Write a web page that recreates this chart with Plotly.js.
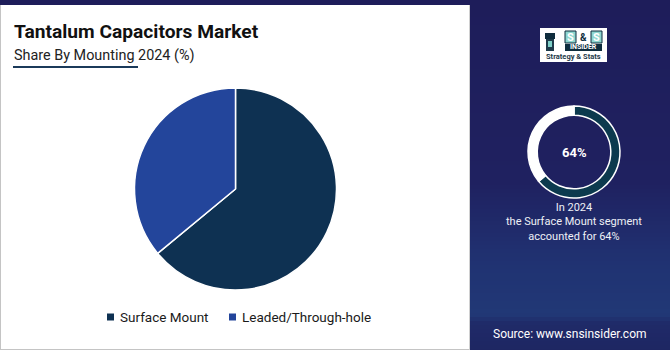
<!DOCTYPE html>
<html>
<head>
<meta charset="utf-8">
<script src="https://cdn.plot.ly/plotly-3.0.1.min.js"></script>
<style>html,body{margin:0;padding:0;background:#1e1d5a;}#chart{width:670px;height:350px;}</style>
</head>
<body>
<div id="chart"></div>
<script>
// ---- data ----
const categories = ['Surface Mount', 'Leaded/Through-hole'];
const shares = [64, 36];
const sliceColors = ['#0e3152', '#23459b'];
const chartTitle = 'Tantalum Capacitors Market';
const chartSubtitle = 'Share By Mounting 2024 (%)';
const highlightYear = '2024';
const highlightValue = shares[0];
const sourceText = 'Source: www.snsinsider.com';

// ---- helpers (pixel -> paper) ----
const W = 670, H = 350;
const px = x => x / W;
const py = y => 1 - y / H;
const FONT = 'Roboto, Arial, sans-serif';

const shapes = [];
const annotations = [];
function note(x, y, text, font, extra) {
  annotations.push(Object.assign({xref: 'paper', yref: 'paper', x: px(x), y: py(y), xanchor: 'center', yanchor: 'middle',
    showarrow: false, text: text, font: font}, extra || {}));
}

// right panel gradient bands
function lerp(a, b, t) { return Math.round(a + (b - a) * t); }
function mix(c1, c2, t) {
  return 'rgb(' + lerp(c1[0], c2[0], t) + ',' + lerp(c1[1], c2[1], t) + ',' + lerp(c1[2], c2[2], t) + ')';
}
const stops = [[0, [30, 29, 90]], [180, [31, 33, 96]], [260, [32, 50, 114]], [312, [33, 56, 118]], [322, [31, 42, 104]], [350, [30, 38, 98]]];
for (let y = 5; y < 350; y += 4) {
  let c = stops[stops.length - 1][1];
  for (let i = 0; i < stops.length - 1; i++) {
    if (y >= stops[i][0] && y < stops[i + 1][0]) {
      const t = (y - stops[i][0]) / (stops[i + 1][0] - stops[i][0]);
      c = mix(stops[i][1], stops[i + 1][1], t);
    }
  }
  shapes.push({type: 'rect', xref: 'paper', yref: 'paper', x0: px(470), x1: px(670), y0: py(y + 4.5), y1: py(y), fillcolor: c, line: {width: 0}, layer: 'below'});
}

// white card
shapes.push({type: 'rect', xref: 'paper', yref: 'paper', x0: px(0), x1: px(470), y0: py(350), y1: py(5), fillcolor: '#ffffff', line: {width: 0}, layer: 'below'});
shapes.push({type: 'line', xref: 'paper', yref: 'paper', x0: px(0.5), x1: px(0.5), y0: py(350), y1: py(5), line: {color: '#c4c4c4', width: 1}});
shapes.push({type: 'line', xref: 'paper', yref: 'paper', x0: px(0), x1: px(470), y0: py(349.5), y1: py(349.5), line: {color: '#c4c4c4', width: 1}});
shapes.push({type: 'line', xref: 'paper', yref: 'paper', x0: px(469.5), x1: px(469.5), y0: py(350), y1: py(5), line: {color: '#d0d0d0', width: 1}});

// title + subtitle
note(12, 32, '<b>' + chartTitle + '</b>', {family: FONT, size: 19.2, color: '#111111'}, {xanchor: 'left'});
note(12, 55, chartSubtitle, {family: FONT, size: 14.4, color: '#222222'}, {xanchor: 'left'});
shapes.push({type: 'line', xref: 'paper', yref: 'paper', x0: px(13), x1: px(138), y0: py(67), y1: py(67), line: {color: '#1b3a5a', width: 2}});

// legend (custom)
const legendX = [107, 229];
categories.forEach((c, i) => {
  shapes.push({type: 'rect', xref: 'paper', yref: 'paper', x0: px(legendX[i]), x1: px(legendX[i] + 7), y0: py(320.5), y1: py(313.5), fillcolor: sliceColors[i], line: {width: 0}});
  note(legendX[i] + 11, 317, c, {family: FONT, size: 13.5, color: '#1a1a1a'}, {xanchor: 'left'});
});

// logo
shapes.push({type: 'rect', xref: 'paper', yref: 'paper', x0: px(540), x1: px(607), y0: py(62), y1: py(28), fillcolor: '#ffffff', line: {width: 0}});
// tower icon
shapes.push({type: 'rect', xref: 'paper', yref: 'paper', x0: px(546), x1: px(554), y0: py(51), y1: py(38), fillcolor: '#1d3a4a', line: {width: 0}});
shapes.push({type: 'rect', xref: 'paper', yref: 'paper', x0: px(545), x1: px(555), y0: py(39), y1: py(33), fillcolor: '#0f2d3e', line: {width: 0}});
shapes.push({type: 'rect', xref: 'paper', yref: 'paper', x0: px(548), x1: px(552), y0: py(47), y1: py(41), fillcolor: '#7fd0c8', line: {width: 0}});
// S & S boxes
shapes.push({type: 'rect', xref: 'paper', yref: 'paper', x0: px(565), x1: px(576), y0: py(43), y1: py(31), fillcolor: '#8ed6cf', line: {color: '#0f2d3e', width: 1}});
shapes.push({type: 'rect', xref: 'paper', yref: 'paper', x0: px(591), x1: px(602), y0: py(43), y1: py(31), fillcolor: '#8ed6cf', line: {color: '#0f2d3e', width: 1}});
note(570.5, 37, '<b>S</b>', {family: FONT, size: 11, color: '#ffffff'});
note(583.5, 37, '<b>&amp;</b>', {family: FONT, size: 10, color: '#0f2d3e'});
note(596.5, 37, '<b>S</b>', {family: FONT, size: 11, color: '#ffffff'});
shapes.push({type: 'rect', xref: 'paper', yref: 'paper', x0: px(565), x1: px(602), y0: py(51), y1: py(44), fillcolor: '#0f2d3e', line: {width: 0}});
note(583.5, 47.5, '<b>INSIDER</b>', {family: FONT, size: 7, color: '#ffffff'});
note(573.5, 56.5, '<b>Strategy &amp; Stats</b>', {family: FONT, size: 7.5, color: '#1d3a4a'});

// highlight text
note(574, 152, '<b>' + highlightValue + '%</b>', {family: FONT, size: 13, color: '#ffffff'});
note(574, 222, 'In ' + highlightYear + '<br>the ' + categories[0] + ' segment<br>accounted for ' + highlightValue + '%',
  {family: FONT, size: 11, color: '#eef0f6'}, {align: 'center'});
note(570, 334, sourceText, {family: FONT, size: 12, color: '#ffffff'});

const traces = [
  {
    type: 'pie', labels: categories, values: shares, sort: false, direction: 'clockwise', rotation: 0,
    marker: {colors: sliceColors, line: {color: '#ffffff', width: 1.5}},
    textinfo: 'none', hoverinfo: 'label+percent', showlegend: false,
    domain: {x: [px(134.5), px(336.5)], y: [py(290), py(88)]}
  },
  {
    type: 'pie', labels: categories, values: shares, sort: false, direction: 'clockwise', rotation: 0, hole: 0.8,
    marker: {colors: ['#0c3a4e', '#ffffff'], line: {color: '#ffffff', width: 1.5}},
    textinfo: 'none', hoverinfo: 'skip', showlegend: false,
    domain: {x: [px(528), px(620)], y: [py(198), py(106)]}
  }
];

const layout = {
  width: W, height: H,
  margin: {l: 0, r: 0, t: 0, b: 0},
  paper_bgcolor: '#1e1d5a',
  plot_bgcolor: 'rgba(0,0,0,0)',
  showlegend: false,
  shapes: shapes,
  annotations: annotations,
  font: {family: FONT}
};

Plotly.newPlot('chart', traces, layout, {displayModeBar: false, staticPlot: true});
</script>
</body>
</html>
